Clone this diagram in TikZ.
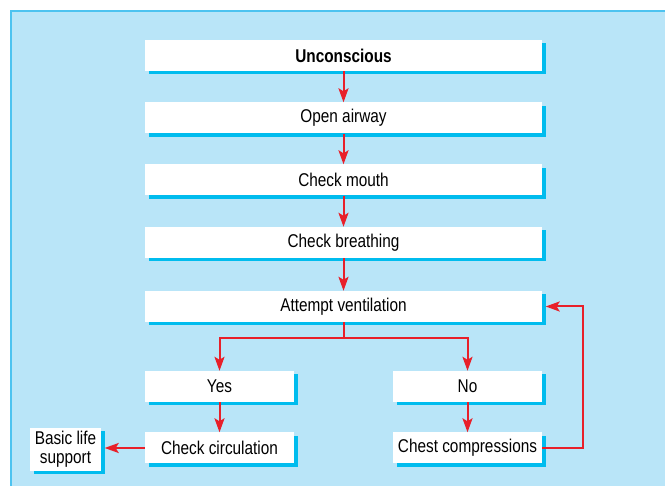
\documentclass[tikz,border=0pt]{standalone}
\usepackage{fontspec}
\setmainfont{Liberation Sans}[FakeStretch=0.83]
\usetikzlibrary{arrows.meta,shadows}
\definecolor{bgblue}{HTML}{B9E5F8}
\definecolor{edgeblue}{HTML}{4DC3F0}
\definecolor{shadowblue}{HTML}{00BCEE}
\definecolor{arrred}{HTML}{E8202A}
\tikzset{
  box/.style={fill=white, draw=none, inner sep=0pt, align=center,
    font=\fontsize{18.5}{19.5}\selectfont,
    drop shadow={shadow xshift=3.5pt, shadow yshift=-3.5pt, fill=shadowblue, opacity=1}},
  wide/.style={box, minimum width=397pt, minimum height=31pt},
  half/.style={box, minimum width=149pt, minimum height=31pt},
  conn/.style={draw=arrred, line width=2pt, -{Stealth[length=14pt,width=10pt,inset=3pt]}},
  plain/.style={draw=arrred, line width=2pt}
}
\begin{document}
\begin{tikzpicture}[x=1pt,y=-1pt]
\useasboundingbox (0,0) rectangle (665,486);
\fill[bgblue] (10,10) rectangle (665,486);
\draw[edgeblue, line width=2pt] (11,486) -- (11,11) -- (665,11);

\node[wide] (u)  at (343.5,55.5)  {\textbf{Unconscious}};
\node[wide] (oa) at (343.5,118)   {Open airway};
\node[wide] (cm) at (343.5,180)   {Check mouth};
\node[wide] (cb) at (343.5,242.5) {Check breathing};
\node[wide] (av) at (343.5,306.5) {Attempt ventilation};
\node[half] (yes) at (219.5,386.5) {Yes};
\node[half] (no)  at (467.5,386.5) {No};
\node[half] (cc)  at (219.5,448)   {Check circulation};
\node[half] (ch)  at (467.5,448)   {Chest compressions};
\node[box, minimum width=71pt, minimum height=43pt, font=\fontsize{18.5}{19}\selectfont] (bls) at (65.5,449.5) {Basic life\\support};

\coordinate (split) at (343.5,338);
\coordinate (ret) at (583,448);

\draw[conn] (u) -- (oa);
\draw[conn] (oa) -- (cm);
\draw[conn] (cm) -- (cb);
\draw[conn] (cb) -- (av);
\draw[plain] (av.south) -- (split);
\draw[conn] (split) -| (yes.north);
\draw[conn] (split) -| (no.north);
\draw[conn] (yes) -- (cc);
\draw[conn] (no) -- (ch);
\draw[conn] (cc.west) -- ([xshift=3.5pt]bls.east |- cc.west);
\draw[conn] (ch.east) -- (ret) |- ([xshift=3.5pt]av.east);
\end{tikzpicture}
\end{document}
